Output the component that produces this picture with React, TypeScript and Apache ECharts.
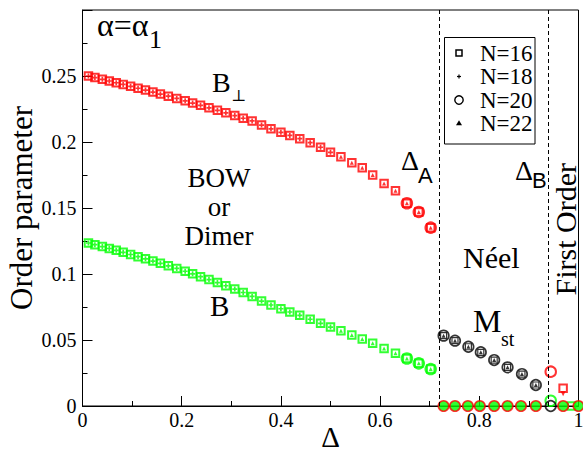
import React, { useEffect, useRef } from "react";
import * as echarts from "echarts";

// ---- data ----
const deltaGrid = [
  0.012, 0.025, 0.040, 0.054, 0.068, 0.082, 0.097, 0.112, 0.127, 0.142,
  0.157, 0.173, 0.190, 0.207, 0.222, 0.238, 0.255, 0.272, 0.289, 0.307,
  0.324, 0.342, 0.361, 0.380, 0.400, 0.418, 0.438, 0.459, 0.480, 0.500,
  0.521, 0.543, 0.564, 0.585, 0.608, 0.631, 0.654, 0.678, 0.702,
];
const bPerp = [
  0.2500, 0.2488, 0.2475, 0.2462, 0.2449, 0.2436, 0.2422, 0.2407, 0.2393, 0.2378,
  0.2363, 0.2347, 0.2330, 0.2312, 0.2295, 0.2278, 0.2259, 0.2240, 0.2221, 0.2200,
  0.2180, 0.2160, 0.2128, 0.2100, 0.2073, 0.2050, 0.2025, 0.1995, 0.1960, 0.1922,
  0.1889, 0.1843, 0.1805, 0.1750, 0.1685, 0.1631, 0.1536, 0.1470, 0.1351,
];
const bDimer = [
  0.1235, 0.1222, 0.1208, 0.1193, 0.1179, 0.1164, 0.1148, 0.1131, 0.1115, 0.1098,
  0.1081, 0.1062, 0.1042, 0.1021, 0.1001, 0.0980, 0.0958, 0.0935, 0.0911, 0.0886,
  0.0860, 0.0830, 0.0795, 0.0765, 0.0737, 0.0712, 0.0687, 0.0657, 0.0626, 0.0598,
  0.0570, 0.0538, 0.0508, 0.0475, 0.0436, 0.0400, 0.0360, 0.0323, 0.0280,
];
const neelDelta = [0.728, 0.751, 0.778, 0.803, 0.830, 0.857, 0.886, 0.914];
const mst = [0.0533, 0.0495, 0.0449, 0.0407, 0.0348, 0.0293, 0.0242, 0.0159];
const zeroDelta = [0.728, 0.751, 0.777, 0.801, 0.830, 0.857, 0.884, 0.914, 0.969, 1.0];
const zeroValue = [0, 0, 0, 0, 0, 0, 0, 0, 0, 0];
const firstOrderDelta = [0.944];
const firstOrderBPerp = [0.026];
const firstOrderB = [0.004];
const firstOrderMst = [0];
const edgeRedDelta = [0.969];
const edgeRedValue = [0.0134];
const edgeArrowValue = [0.0092];
const edgeGreenDelta = [0.986];
const edgeGreenValue = [0.0];
const transitionDelta = [0.717, 0.944]; // Delta_A, Delta_B
const legendLabels = ["N=16", "N=18", "N=20", "N=22"];

const RED = "#ff0000";
const GREEN = "#00ff00";
const BLACK = "#000000";
const SERIF = "'Liberation Serif', 'Times New Roman', serif";
const SANS = "'Liberation Sans', Arial, sans-serif";
const PLUS = "path://M1,0H2V1H3V2H2V3H1V2H0V1H1Z";
const NONE = "rgba(0,0,0,0)";

const pts = (xs: number[], ys: number[]) => xs.map((x, i) => [x, ys[i]]);

function App() {
  const ref = useRef<HTMLDivElement>(null);
  useEffect(() => {
    if (!ref.current) return;
    const chart = echarts.init(ref.current, undefined, { renderer: "svg" });

    const red = pts(deltaGrid, bPerp);
    const green = pts(deltaGrid, bDimer);
    const plusCut = 30;
    const circleStart = 36;

    const hollow = (name: string, data: any[], symbol: string, size: number, color: string, bw = 2) => ({
      type: "scatter", name, data, symbol, symbolSize: size, silent: true,
      itemStyle: { color: NONE, borderColor: color, borderWidth: bw },
      emphasis: { disabled: true },
    });
    const filled = (name: string, data: any[], symbol: string, size: number, color: string, extra: any = {}) => ({
      type: "scatter", name, data, symbol, symbolSize: size, silent: true,
      itemStyle: { color, ...extra }, emphasis: { disabled: true },
    });

    const series: any[] = [
      {
        ...hollow("B_perp N=16", red.concat(pts(edgeRedDelta, edgeRedValue)), "rect", 7.5, RED),
        markLine: {
          silent: true, symbol: ["none", "none"], label: { show: false },
          lineStyle: { type: [4, 3], color: BLACK, width: 1 },
          data: transitionDelta.map((d) => ({ xAxis: d })),
        },
      },
      filled("B_perp N=18", red.slice(0, plusCut), PLUS, 5, RED),
      filled("B_perp N=22", red.slice(plusCut), "triangle", 4, RED),
      hollow("B_perp N=20", red.slice(circleStart).concat(pts(firstOrderDelta, firstOrderBPerp)), "circle", 10.5, RED),
      { ...filled("B_perp arrow", pts(edgeRedDelta, edgeArrowValue), "triangle", 5, RED), symbolRotate: 180 },
      hollow("B N=16", green.concat(pts(edgeGreenDelta, edgeGreenValue)), "rect", 7.5, GREEN),
      filled("B N=18", green.slice(0, plusCut), PLUS, 5, GREEN),
      filled("B N=22", green.slice(plusCut), "triangle", 4, GREEN),
      hollow("B N=20", green.slice(circleStart).concat(pts(firstOrderDelta, firstOrderB)), "circle", 10.5, GREEN),
      {
        type: "scatter", name: "zero", data: pts(zeroDelta, zeroValue), symbol: "circle", symbolSize: 10.5,
        silent: true, itemStyle: { color: GREEN, borderColor: RED, borderWidth: 1.6 }, emphasis: { disabled: true },
      },
      hollow("Mst N=16", pts(neelDelta, mst), "rect", 6, BLACK, 1.2),
      filled("Mst N=22", pts(neelDelta, mst), "triangle", 4, BLACK),
      hollow("Mst N=20", pts(neelDelta, mst).concat(pts(firstOrderDelta, firstOrderMst)), "circle", 10.5, BLACK, 1.7),
    ];

    const txt = (text: string, x: number, y: number, size: number, family = SERIF, extra: any = {}) => ({
      type: "text", x, y, z: 100, silent: true,
      style: { text, fontSize: size, fontFamily: family, fill: BLACK, align: "left", verticalAlign: "middle", ...extra },
    });

    const legendY = [53, 76.5, 100, 123.3];
    const graphic: any[] = [
      txt("α=α", 97, 25, 32),
      txt("1", 149, 39, 26),
      txt("B", 212, 82, 28),
      txt("⊥", 231, 95, 16, "'DejaVu Serif', serif"),
      txt("BOW\nor\nDimer", 219, 207, 27, SERIF, { align: "center", lineHeight: 29 }),
      txt("B", 210, 306, 29),
      txt("Δ", 401, 160, 28),
      txt("A", 418, 175, 22, SANS),
      txt("Δ", 515, 170, 28),
      txt("B", 532, 180, 22, SANS),
      txt("Néel", 463, 257, 30),
      txt("M", 473, 321, 32),
      txt("st", 501, 339, 20),
      {
        type: "text", x: 565, y: 163, z: 100, rotation: Math.PI / 2, silent: true,
        style: { text: "First Order", fontSize: 30, fontFamily: SERIF, fill: BLACK, align: "right", verticalAlign: "middle" },
      },
      {
        type: "rect", z: 100, silent: true,
        shape: { x: 444.5, y: 37.5, width: 90.5, height: 106.5 },
        style: { fill: "#ffffff", stroke: BLACK, lineWidth: 1 },
      },
      {
        type: "rect", z: 101, silent: true,
        shape: { x: 456, y: legendY[0] - 3, width: 6, height: 6 },
        style: { fill: "none", stroke: BLACK, lineWidth: 1.5 },
      },
      {
        type: "line", z: 101, silent: true,
        shape: { x1: 457, y1: legendY[1], x2: 461, y2: legendY[1] },
        style: { stroke: BLACK, lineWidth: 1.2 },
      },
      {
        type: "line", z: 101, silent: true,
        shape: { x1: 459, y1: legendY[1] - 2, x2: 459, y2: legendY[1] + 2 },
        style: { stroke: BLACK, lineWidth: 1.2 },
      },
      {
        type: "circle", z: 101, silent: true,
        shape: { cx: 459, cy: legendY[2], r: 4.2 },
        style: { fill: "none", stroke: BLACK, lineWidth: 1.4 },
      },
      {
        type: "polygon", z: 101, silent: true,
        shape: { points: [[459, legendY[3] - 3], [462, legendY[3] + 2], [456, legendY[3] + 2]] },
        style: { fill: BLACK },
      },
      ...legendLabels.map((l, i) => ({ ...txt(l, 480, legendY[i], 23), z: 101 })),
    ];

    chart.setOption({
      animation: false,
      backgroundColor: "#ffffff",
      grid: {
        left: 82.5, right: 4.5, top: 10, bottom: 51, outerBoundsMode: "none", containLabel: false,
        show: true, borderColor: BLACK, borderWidth: 1, backgroundColor: "transparent",
      },
      xAxis: {
        type: "value", min: 0, max: 1, interval: 0.2,
        name: "Δ", nameLocation: "middle", nameGap: 16, nameMoveOverlap: false,
        nameTextStyle: { fontFamily: SERIF, fontSize: 29, color: BLACK },
        axisLine: { show: true, lineStyle: { color: BLACK, width: 1 } },
        axisTick: { show: true, inside: true, length: 10, lineStyle: { color: BLACK } },
        minorTick: { show: true, splitNumber: 2, length: 5, lineStyle: { color: BLACK } },
        axisLabel: { fontFamily: SERIF, fontSize: 20, color: BLACK, margin: 4, showMaxLabel: true, showMinLabel: true, hideOverlap: false },
        splitLine: { show: false },
      },
      yAxis: {
        type: "value", min: 0, max: 0.3, interval: 0.05,
        name: "Order parameter", nameLocation: "middle", nameGap: 46, nameRotate: 90, nameMoveOverlap: false,
        nameTextStyle: { fontFamily: SERIF, fontSize: 31, color: BLACK },
        axisLine: { show: true, lineStyle: { color: BLACK, width: 1 } },
        axisTick: { show: true, inside: true, length: 10, lineStyle: { color: BLACK } },
        minorTick: { show: true, splitNumber: 2, length: 5, lineStyle: { color: BLACK } },
        axisLabel: {
          fontFamily: SERIF, fontSize: 20, color: BLACK, margin: 6,
          formatter: (v: number) => (v > 0.29 ? "" : String(Math.round(v * 100) / 100)),
        },
        splitLine: { show: false },
      },
      series,
      graphic,
    });
    return () => chart.dispose();
  }, []);
  return <div ref={ref} style={{ width: 583, height: 457, position: "absolute", left: 0, top: 0 }} />;
}

export default App;
